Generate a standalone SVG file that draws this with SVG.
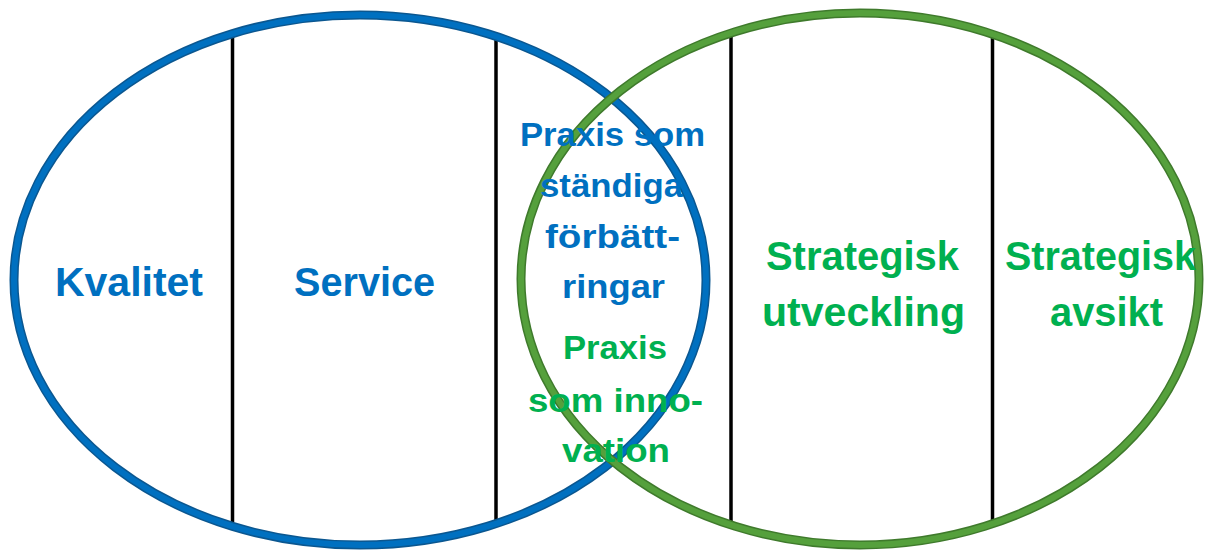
<svg xmlns="http://www.w3.org/2000/svg" width="1205" height="553" viewBox="0 0 1205 553">
  <style>
    .lbl { font-family: "Liberation Sans", Arial, sans-serif; font-weight: bold; text-anchor: middle; }
    .big { font-size: 40px; }
    .mid { font-size: 33px; }
    .blue { fill: #0070C0; }
    .green { fill: #00B050; }
    .div { stroke: #000; stroke-width: 3.5; }
    .ring { fill: none; }
  </style>
  <rect width="1205" height="553" fill="#ffffff"/>
  <g id="dividers">
    <line class="div" x1="232.5" y1="35" x2="232.5" y2="522"/>
    <line class="div" x1="496" y1="35" x2="496" y2="522"/>
    <line class="div" x1="731" y1="35" x2="731" y2="522"/>
    <line class="div" x1="992.5" y1="35" x2="992.5" y2="522"/>
  </g>
  <g id="circle-blue">
    <ellipse class="ring" cx="360" cy="280" rx="346" ry="265" stroke="#0b5790" stroke-width="9"/>
    <ellipse class="ring" cx="360" cy="280" rx="346" ry="265" stroke="#0070C0" stroke-width="6"/>
  </g>
  <g id="circle-green">
    <ellipse class="ring" cx="860" cy="279" rx="339" ry="266" stroke="#3f7a2c" stroke-width="9"/>
    <ellipse class="ring" cx="860" cy="279" rx="339" ry="266" stroke="#55a03c" stroke-width="6"/>
  </g>
  <g id="node-kvalitet">
    <text class="lbl big blue" x="129" y="296" textLength="148" lengthAdjust="spacingAndGlyphs">Kvalitet</text>
  </g>
  <g id="node-service">
    <text class="lbl big blue" x="364.5" y="296" textLength="141" lengthAdjust="spacingAndGlyphs">Service</text>
  </g>
  <g id="node-standiga">
    <text class="lbl mid blue" x="612.5" y="146" textLength="185" lengthAdjust="spacingAndGlyphs">Praxis som</text>
    <text class="lbl mid blue" x="611.5" y="197" textLength="143" lengthAdjust="spacingAndGlyphs">ständiga</text>
    <text class="lbl mid blue" x="612.5" y="248" textLength="135" lengthAdjust="spacingAndGlyphs">förbätt-</text>
    <text class="lbl mid blue" x="613.5" y="298" textLength="103" lengthAdjust="spacingAndGlyphs">ringar</text>
  </g>
  <g id="node-innovation">
    <text class="lbl mid green" x="615" y="359" textLength="104" lengthAdjust="spacingAndGlyphs">Praxis</text>
    <text class="lbl mid green" x="615.5" y="412" textLength="175" lengthAdjust="spacingAndGlyphs">som inno-</text>
    <text class="lbl mid green" x="616" y="462" textLength="108" lengthAdjust="spacingAndGlyphs">vation</text>
  </g>
  <g id="node-utveckling">
    <text class="lbl big green" x="862.5" y="270" textLength="193" lengthAdjust="spacingAndGlyphs">Strategisk</text>
    <text class="lbl big green" x="863.5" y="326" textLength="203" lengthAdjust="spacingAndGlyphs">utveckling</text>
  </g>
  <g id="node-avsikt">
    <text class="lbl big green" x="1100.5" y="270" textLength="191" lengthAdjust="spacingAndGlyphs">Strategisk</text>
    <text class="lbl big green" x="1106.5" y="326" textLength="113" lengthAdjust="spacingAndGlyphs">avsikt</text>
  </g>
  <g id="connectors"/>
</svg>
